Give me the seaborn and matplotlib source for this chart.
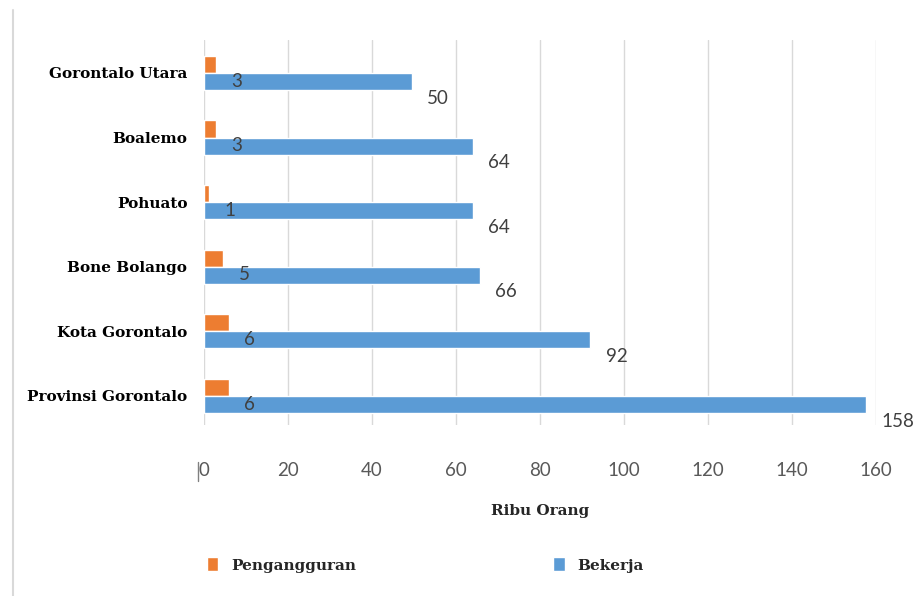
import matplotlib
matplotlib.use("Agg")
import matplotlib.pyplot as plt
import seaborn as sns
import pandas as pd
from matplotlib.lines import Line2D
from matplotlib.patches import Patch

wilayah = ["Gorontalo Utara", "Boalemo", "Pohuato", "Bone Bolango",
           "Kota Gorontalo", "Provinsi Gorontalo"]
pengangguran = [2.8, 2.8, 1.3, 4.6, 6.0, 6.0]
bekerja = [49.5, 64.0, 64.0, 65.7, 92.0, 157.6]
series = ["Pengangguran", "Bekerja"]
colors = ["#ED7D31", "#5B9BD5"]
xticks = [0, 20, 40, 60, 80, 100, 120, 140, 160]

df = pd.DataFrame({
    "wilayah": wilayah * 2,
    "nilai": pengangguran + bekerja,
    "seri": [series[0]] * len(wilayah) + [series[1]] * len(wilayah),
})

sns.set_theme(style="white")
serif = ["DejaVu Serif"]
sans = ["Lato", "DejaVu Sans"]

fig = plt.figure(figsize=(9.18, 5.96), dpi=100)
W, H = 918, 596
ax = fig.add_axes([204 / W, 1 - 425 / H, (876 - 204) / W, (425 - 40) / H])

sns.barplot(data=df, y="wilayah", x="nilai", hue="seri", hue_order=series,
            order=wilayah, palette=colors, orient="h", width=0.53,
            saturation=1, ax=ax, legend=False)

ax.set_xlim(0, 160)
ax.set_ylim(5.45, -0.51)
ax.set_xticks(xticks)
ax.set_xticklabels([str(t) for t in xticks], fontsize=13.5, color="#595959",
                   family=sans)
ax.tick_params(axis="x", length=0, pad=27)
ax.tick_params(axis="y", length=0, pad=12)
for lab in ax.get_yticklabels():
    lab.set_fontfamily(serif)
    lab.set_fontweight("bold")
    lab.set_fontsize(11)
    lab.set_color("black")
ax.set_ylabel("")
ax.set_xlabel("Ribu Orang", fontsize=11, fontweight="bold", family=serif,
              labelpad=18)
ax.grid(axis="x", color="#D9D9D9", linewidth=1)
ax.set_axisbelow(True)
for s in ax.spines.values():
    s.set_visible(False)

# value labels
for cont, vals in zip(ax.containers, [pengangguran, bekerja]):
    for bar, v in zip(cont, vals):
        ax.annotate(f"{round(v):d}",
                    (bar.get_width(), bar.get_y() + bar.get_height() / 2),
                    xytext=(11, -12), textcoords="offset points",
                    ha="left", va="center", fontsize=13.5, color="#404040",
                    family=sans)

# frame line on the left and small mark beside the zero label
fig.add_artist(Line2D([12.5 / W, 12.5 / W], [0, 1 - 10 / H],
                      color="#D9D9D9", linewidth=1.5))
fig.add_artist(Line2D([197.5 / W, 197.5 / W], [1 - 462 / H, 1 - 481 / H],
                      color="#808080", linewidth=1))

handles = [Patch(facecolor=c) for c in colors]
fig.legend(handles, series, loc="center left",
           bbox_to_anchor=(193 / W, 1 - 565 / H), ncol=2, frameon=False,
           handlelength=0.75, handleheight=1.0, handletextpad=0.85,
           columnspacing=12.9,
           prop={"family": serif, "weight": "bold", "size": 11})

fig.savefig("out.png", dpi=100)
